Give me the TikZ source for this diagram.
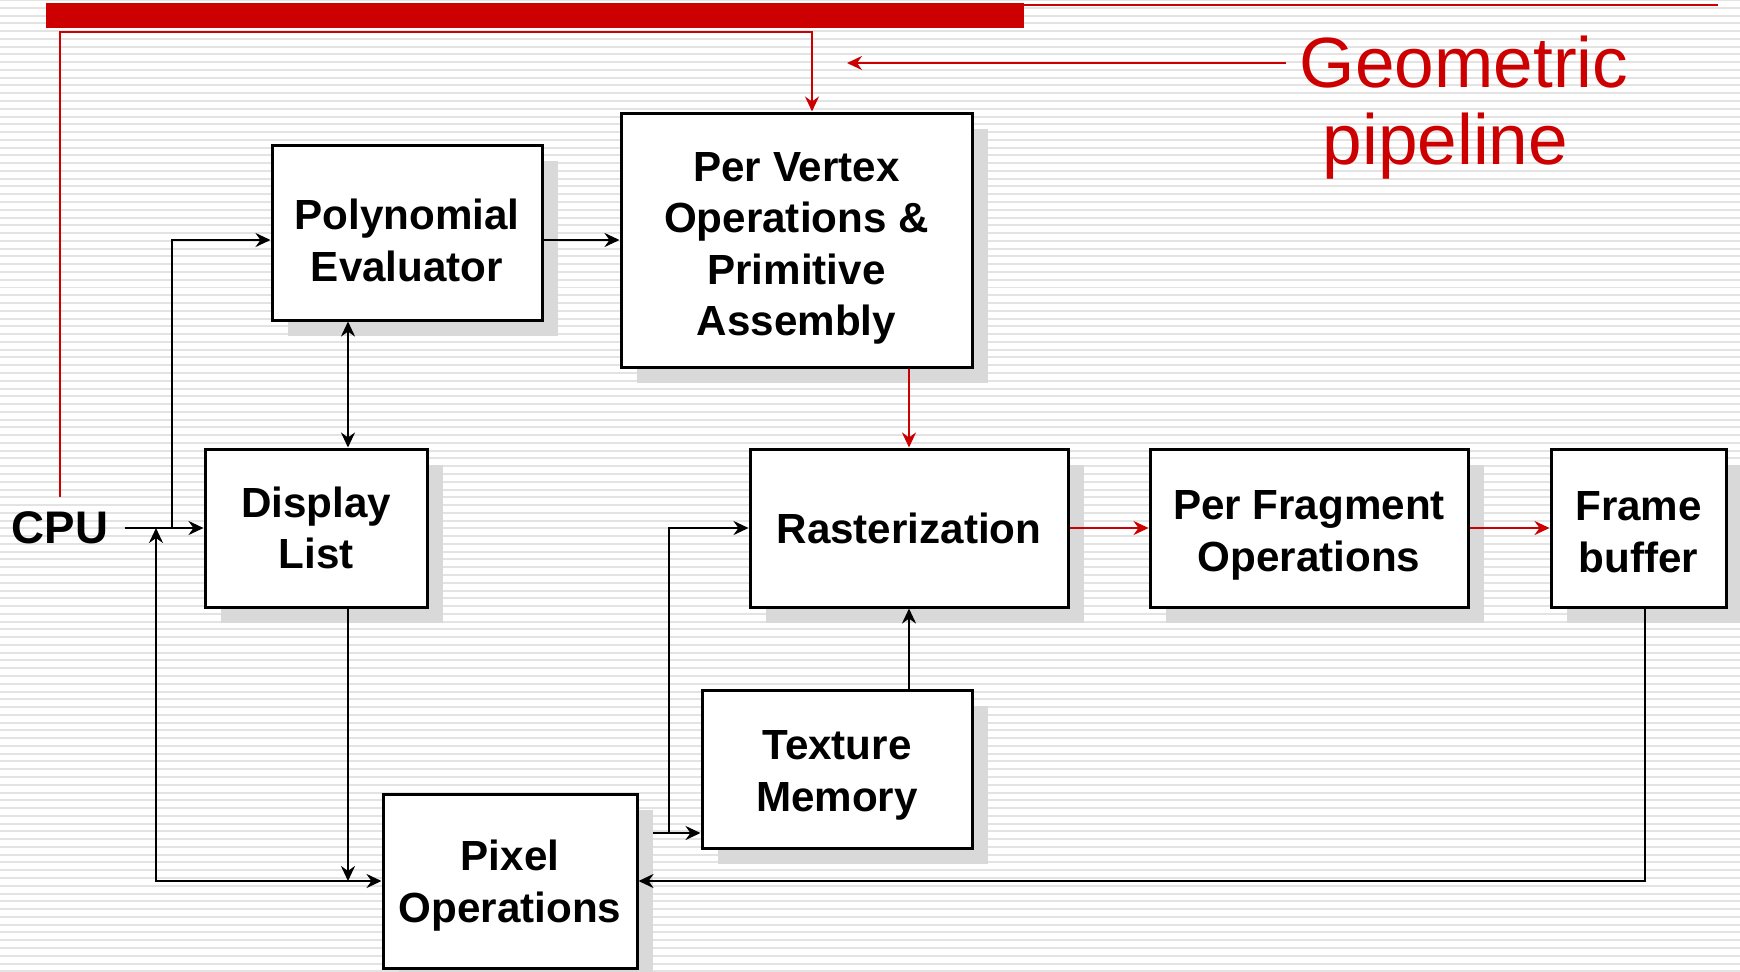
\documentclass[tikz,border=0pt]{standalone}
\usepackage{fontspec}
\setmainfont{Liberation Sans}
\usetikzlibrary{arrows.meta}
\usetikzlibrary{shadows}
\definecolor{pipered}{HTML}{CC0000}
\definecolor{shadowgray}{HTML}{D9D9D9}
\definecolor{stripegray}{HTML}{E3E3E3}
\newcommand{\boxstrut}[1]{\rule{0pt}{#1}}
\begin{document}
\begin{tikzpicture}[
            x=0.02cm, y=-0.02cm,
            >={Stealth[length=0.3cm,width=0.28cm,inset=0.1cm]},
            box node/.style={draw=black,line width=0.06cm,fill=white,align=center,inner sep=0pt,
                font=\fontsize{24}{29.3}\selectfont\bfseries,
                general shadow={fill=shadowgray,shadow xshift=0.32cm,shadow yshift=-0.32cm}},
            wire/.style={line width=0.05cm,->},
            red wire/.style={wire,pipered},
            ]
            \def\px{0.02cm}
            \useasboundingbox (0,0) rectangle (1740,971);
            \fill[white] (0,0) rectangle (1740,971);
            \foreach \i in {0,...,125}
                \draw[stripegray, line width=0.04cm] (0,7.77*\i) -- (1740,7.77*\i);
            
            \node[box node, minimum width=270*\px, minimum height=175*\px] (poly) at (407,232.5) {\boxstrut{26.3pt}Polynomial\\Evaluator};
            \node[box node, minimum width=351*\px, minimum height=254*\px] (vert) at (796.5,240) {\boxstrut{26.3pt}Per Vertex\\Operations \&\\Primitive\\Assembly};
            \node[box node, minimum width=222*\px, minimum height=158*\px] (disp) at (316,528) {Display\\List};
            \node[box node, minimum width=318*\px, minimum height=158*\px] (rast) at (909,528) {Rasterization};
            \node[box node, minimum width=318*\px, minimum height=158*\px] (frag) at (1309,528) {\boxstrut{25.1pt}Per Fragment\\Operations};
            \node[box node, minimum width=175*\px, minimum height=158*\px] (fb) at (1638.5,528) {\boxstrut{21.3pt}Frame\\buffer};
            \node[box node, minimum width=270*\px, minimum height=158*\px] (tex) at (837,769) {\boxstrut{23.9pt}Texture\\Memory};
            \node[box node, minimum width=254*\px, minimum height=174*\px] (pix) at (510,881) {\boxstrut{22.5pt}Pixel\\Operations};
            \node[font=\fontsize{26}{30}\selectfont\bfseries, inner xsep=0.32cm] (cpu) at (60,528) {CPU};
            \node[text=pipered, font=\fontsize{40.5}{43.8}\selectfont, align=left, inner xsep=0.28cm, inner ysep=0pt] (geo) at (1464,108) {Geometric\\\hspace*{0.46cm}pipeline};
            
            \coordinate (j1) at (172,528);
            \coordinate (k) at (348,0);
            \coordinate (c1) at (156,881);
            \coordinate (p2) at (653,833);
            \coordinate (j2) at (669,833);
            \coordinate (c3) at (1645,881);
            \coordinate (r1) at (60,497);
            \coordinate (r2) at (812,32);
            \coordinate (g1) at (847,63);
            
            % geometric pipeline marker
            \fill[pipered] (46,3) rectangle (1024,28);
            \draw[pipered, line width=0.04cm] (1024,5) -- (1718,5);
            \draw[red wire, line width=0.04cm] (r1) |- (r2) -- (r2 |- vert.north);
            \draw[red wire, line width=0.04cm] (geo.west |- g1) -- (g1);
            
            \draw[wire] (cpu.east) -- (disp.west);
            \draw[wire] (j1) |- (poly.west |- vert.west);
            \draw[wire] (poly.east |- vert.west) -- (vert.west);
            \draw[wire, <->] (poly.south -| k) -- (disp.north -| k);
            \draw[wire, <->] (c1 |- cpu.east) -- (c1) -- (pix.west);
            \draw[wire] (disp.south -| k) -- (k |- pix.west);
            \draw[red wire] (vert.south -| rast.north) -- (rast.north);
            \draw[wire] (tex.north -| rast.south) -- (rast.south);
            \draw[wire] (p2) -- (tex.west |- p2);
            \draw[wire] (j2) |- (rast.west);
            \draw[red wire] (rast.east) -- (frag.west);
            \draw[red wire] (frag.east) -- (fb.west);
            \draw[wire] (fb.south -| c3) -- (c3) -- (pix.east);
        \end{tikzpicture}
\end{document}
